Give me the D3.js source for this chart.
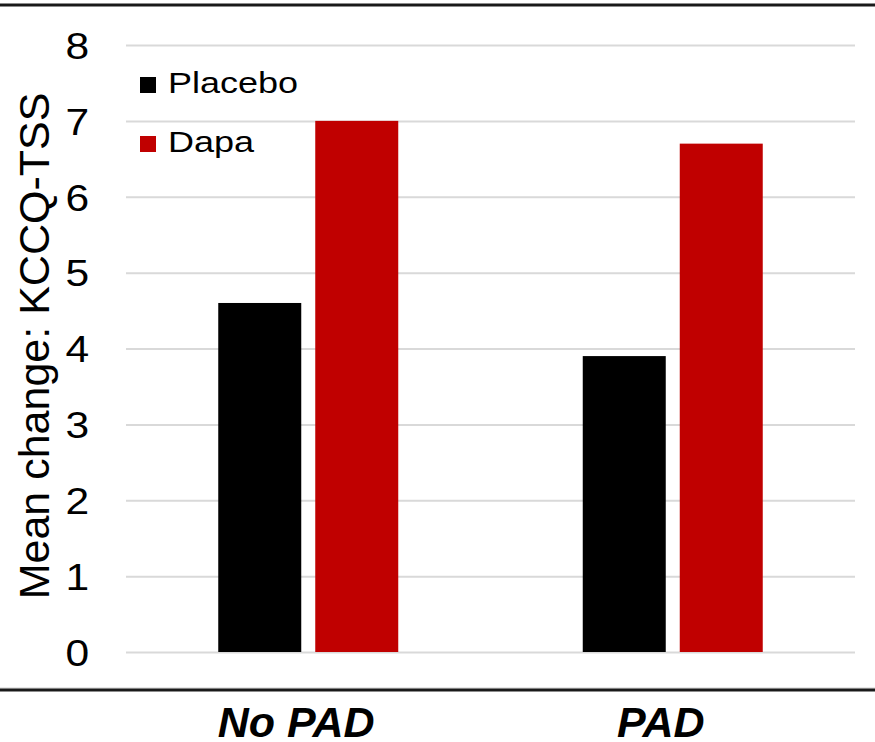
<!DOCTYPE html>
<html>
<head>
<meta charset="utf-8">
<script src="https://cdn.jsdelivr.net/npm/d3@7"></script>
<style>
  html, body { margin: 0; padding: 0; background: #fff; }
  svg { display: block; }
  text { font-family: Arial, "Liberation Sans", sans-serif; fill: #000; }
</style>
</head>
<body>
<svg id="chart" width="875" height="742"></svg>
<script>
const categories = ["No PAD", "PAD"];
const seriesNames = ["Placebo", "Dapa"];
const placebo = [4.6, 3.9];
const dapa = [7.0, 6.7];
const yTicks = [0, 1, 2, 3, 4, 5, 6, 7, 8];
const colors = ["#000000", "#c00000"];
const yTitle = "Mean change: KCCQ-TSS";

const seriesValues = [placebo, dapa];
const svg = d3.select("#chart");

const x0 = d3.scaleBand().domain(categories).range([126, 855]).paddingInner(0).paddingOuter(0);
const x1 = d3.scaleBand().domain(seriesNames).range([-90, 90]).paddingInner(0.1443).paddingOuter(0);
const y = d3.scaleLinear().domain([0, 8]).range([652, 45]);

// frame lines
svg.append("line").attr("x1", 0).attr("x2", 875).attr("y1", 5).attr("y2", 5)
  .attr("stroke", "#1a1a1a").attr("stroke-width", 3);
svg.append("line").attr("x1", 0).attr("x2", 875).attr("y1", 688).attr("y2", 688)
  .attr("stroke", "#cfcfcf").attr("stroke-width", 1);
svg.append("line").attr("x1", 0).attr("x2", 875).attr("y1", 690).attr("y2", 690)
  .attr("stroke", "#1a1a1a").attr("stroke-width", 3);

// gridlines + tick labels
const yAxis = d3.axisLeft(y).tickValues(yTicks).tickSize(-(855 - 126)).tickFormat(d3.format("d"));
const gy = svg.append("g").attr("transform", "translate(126,0)").call(yAxis);
gy.select(".domain").remove();
gy.selectAll(".tick line").attr("stroke", "#d9d9d9").attr("stroke-width", 2);
gy.selectAll(".tick text")
  .attr("x", -32).attr("dy", "0.36em")
  .attr("transform", "scale(1.15,1)")
  .attr("text-anchor", "end")
  .style("font-size", "37px")
  .style("font-family", "Arial, 'Liberation Sans', sans-serif")
  .attr("fill", "#000");

// bars
const groups = svg.append("g").selectAll("g").data(categories).join("g")
  .attr("transform", d => `translate(${x0(d) + x0.bandwidth() / 2},0)`);
groups.selectAll("rect")
  .data((d, i) => seriesNames.map((s, j) => ({ s, j, v: seriesValues[j][i] })))
  .join("rect")
  .attr("x", d => x1(d.s))
  .attr("width", x1.bandwidth())
  .attr("y", d => y(d.v))
  .attr("height", d => y(0) - y(d.v))
  .attr("fill", d => colors[d.j]);

// x labels
svg.append("g").selectAll("text").data(categories).join("text")
  .attr("x", d => x0(d) + x0.bandwidth() / 2 - 12)
  .attr("y", 737)
  .attr("text-anchor", "middle")
  .style("font-size", "43px")
  .style("font-weight", "bold")
  .style("font-style", "italic")
  .text(d => d);

// y title
svg.append("text")
  .attr("transform", "translate(49,346) rotate(-90)")
  .attr("text-anchor", "middle")
  .style("font-size", "43px")
  .text(yTitle);

// legend
const legend = svg.append("g").selectAll("g").data(seriesNames).join("g")
  .attr("transform", (d, i) => `translate(140,${77 + i * 59})`);
legend.append("rect").attr("width", 16).attr("height", 16).attr("fill", (d, i) => colors[i]);
legend.append("text").attr("x", 28).attr("y", 16)
  .attr("transform", "translate(28,0) scale(1.2,1) translate(-28,0)")
  .style("font-size", "30px").text(d => d);
</script>
</body>
</html>
